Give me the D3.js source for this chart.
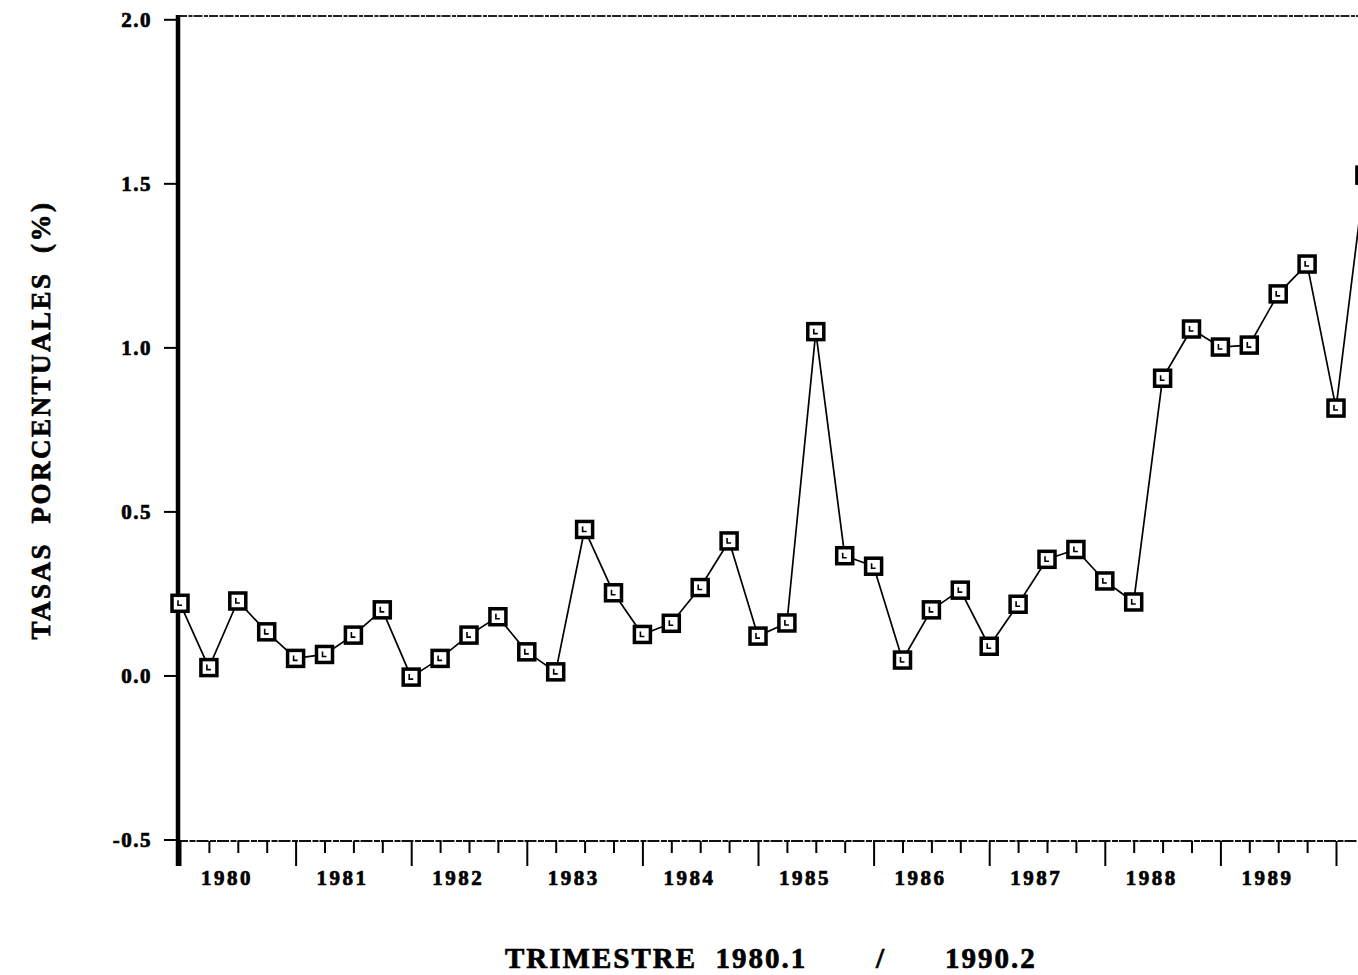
<!DOCTYPE html>
<html>
<head>
<meta charset="utf-8">
<script src="https://cdnjs.cloudflare.com/ajax/libs/d3/7.8.5/d3.min.js"></script>
<style>
  html, body { margin: 0; padding: 0; background: #fff; overflow: hidden; }
  svg { display: block; }
  text { font-family: "Liberation Serif", "DejaVu Serif", serif; font-weight: bold; fill: #000;
         stroke: #000; stroke-width: 0.7px; }
</style>
</head>
<body>
<svg id="chart" width="1358" height="975"></svg>
<script>
// ---- data ----
const quarters = [
  "1980.1","1980.2","1980.3","1980.4",
  "1981.1","1981.2","1981.3","1981.4",
  "1982.1","1982.2","1982.3","1982.4",
  "1983.1","1983.2","1983.3","1983.4",
  "1984.1","1984.2","1984.3","1984.4",
  "1985.1","1985.2","1985.3","1985.4",
  "1986.1","1986.2","1986.3","1986.4",
  "1987.1","1987.2","1987.3","1987.4",
  "1988.1","1988.2","1988.3","1988.4",
  "1989.1","1989.2","1989.3","1989.4",
  "1990.1","1990.2"
];
const tasas = [
  0.22, 0.024, 0.227, 0.133,
  0.052, 0.064, 0.123, 0.200,
  -0.005, 0.052, 0.123, 0.179,
  0.072, 0.011, 0.445, 0.252,
  0.125, 0.159, 0.268, 0.410,
  0.120, 0.160, 1.048, 0.365,
  0.333, 0.047, 0.200, 0.260,
  0.089, 0.217, 0.354, 0.384,
  0.288, 0.224, 0.906, 1.056,
  1.001, 1.007, 1.163, 1.254,
  0.815, 1.525
];
const yTicks = [-0.5, 0.0, 0.5, 1.0, 1.5, 2.0];
const yearLabels = ["1980","1981","1982","1983","1984","1985","1986","1987","1988","1989"];
const yTitle = "TASAS  PORCENTUALES  (%)";
const xTitleParts = ["TRIMESTRE  1980.1", "/", "1990.2"];

// ---- layout ----
const svg = d3.select("#chart");
const axisX = 178;
const quarterStep = 28.9;
const x = d3.scaleLinear().domain([0, quarters.length - 1])
  .range([180, 180 + quarterStep * (quarters.length - 1)]);
const y = d3.scaleLinear().domain([-0.5, 2.0]).range([839.5, 19.3]);
const baseY = y(-0.5) + 1.5;

// top border (dotted-ish)
svg.append("line")
  .attr("x1", axisX).attr("x2", 1358)
  .attr("y1", 16).attr("y2", 16)
  .attr("stroke", "#222").attr("stroke-width", 1.8)
  .attr("stroke-dasharray", "9 1.5 4 1");

// x axis baseline
svg.append("line")
  .attr("x1", axisX - 2).attr("x2", 1358)
  .attr("y1", baseY).attr("y2", baseY)
  .attr("stroke", "#111").attr("stroke-width", 2.2)
  .attr("stroke-dasharray", "12 1.5 6 1");

// x ticks
const minorIdx = quarters.map((q, i) => i).filter(i => i % 4 !== 0);
const majorIdx = quarters.map((q, i) => i).filter(i => i % 4 === 0);
const xMinor = d3.axisBottom(x).tickValues(minorIdx).tickSize(12).tickFormat("");
const xMajor = d3.axisBottom(x).tickValues(majorIdx).tickSize(25).tickFormat("");
[xMinor, xMajor].forEach(ax => {
  const g = svg.append("g").attr("transform", `translate(0,${baseY})`).call(ax);
  g.select(".domain").remove();
  g.selectAll(".tick line").attr("stroke", "#000").attr("stroke-width", 2);
});

// year labels
svg.append("g").selectAll("text")
  .data(yearLabels)
  .join("text")
  .attr("x", (d, i) => x(i * 4) + 47)
  .attr("y", 885)
  .attr("text-anchor", "middle")
  .attr("font-size", 21)
  .attr("letter-spacing", 2.5)
  .text(d => d);

// y axis
const fmt = d3.format(".1f");
const yAx = d3.axisLeft(y).tickValues(yTicks).tickSize(13).tickPadding(12)
  .tickFormat(d => fmt(d).replace("\u2212", "-"));
const gy = svg.append("g").attr("transform", `translate(${axisX - 1},0)`).call(yAx);
gy.select(".domain").remove();
gy.selectAll(".tick line").attr("stroke", "#000").attr("stroke-width", 2);
gy.selectAll(".tick text")
  .attr("font-family", "'Liberation Serif', serif")
  .attr("font-weight", "bold")
  .attr("font-size", 21)
  .attr("letter-spacing", 1.5)
  .attr("fill", "#000")
  .attr("stroke", "#000").attr("stroke-width", 0.7);

// thick y axis line
svg.append("line")
  .attr("x1", axisX).attr("x2", axisX)
  .attr("y1", 15).attr("y2", baseY + 25)
  .attr("stroke", "#000").attr("stroke-width", 4.5);

// series line
const line = d3.line().x((d, i) => x(i)).y(d => y(d));
svg.append("path")
  .datum(tasas)
  .attr("d", line)
  .attr("fill", "none")
  .attr("stroke", "#000")
  .attr("stroke-width", 1.7)
  .attr("stroke-linejoin", "round");

// markers
const ms = 16;
const mk = svg.append("g").selectAll("g")
  .data(tasas)
  .join("g")
  .attr("transform", (d, i) => `translate(${x(i)},${y(d)})`);
mk.append("rect")
  .attr("x", -ms / 2).attr("y", -ms / 2)
  .attr("width", ms).attr("height", ms)
  .attr("fill", "#fff").attr("stroke", "#000").attr("stroke-width", 3.5);
mk.append("path")
  .attr("d", "M-2,-3 L-2,2 L2,2")
  .attr("fill", "none").attr("stroke", "#000").attr("stroke-width", 1.6);

// y title
svg.append("text")
  .attr("transform", "translate(50,420) rotate(-90)")
  .attr("text-anchor", "middle")
  .attr("font-size", 27)
  .attr("letter-spacing", 2.5)
  .style("white-space", "pre")
  .text(yTitle);

// x title
svg.append("text").attr("x", 505).attr("y", 968)
  .attr("font-size", 29).attr("letter-spacing", 2)
  .style("white-space", "pre")
  .text(xTitleParts[0]);
svg.append("text").attr("x", 880).attr("y", 968)
  .attr("text-anchor", "middle")
  .attr("font-size", 29)
  .text(xTitleParts[1]);
svg.append("text").attr("x", 945).attr("y", 968)
  .attr("font-size", 29).attr("letter-spacing", 2)
  .text(xTitleParts[2]);
</script>
</body>
</html>
